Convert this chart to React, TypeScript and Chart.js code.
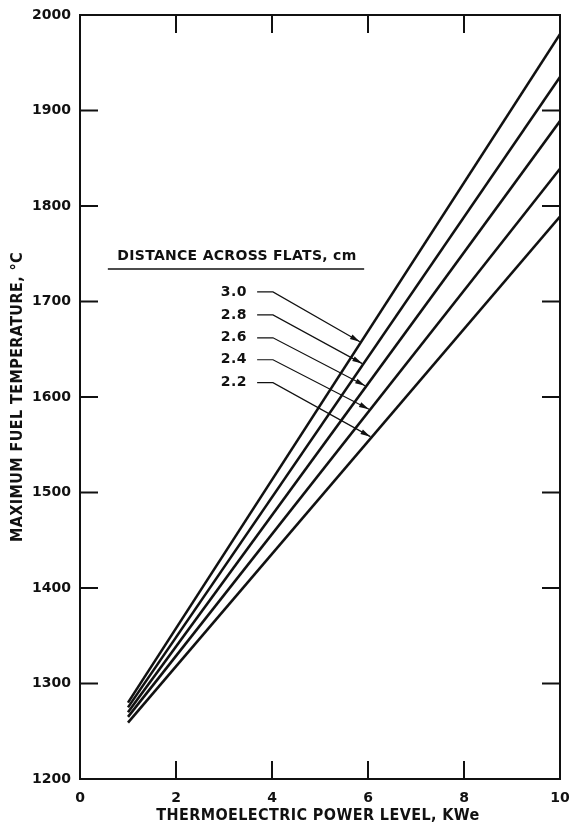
import React, { useEffect, useRef } from "react";
import { Chart, registerables } from "chart.js";

Chart.register(...registerables);

// ---- data ----
const powerLevelKWe = [1, 10];
const flatDistanceLabels = ["3.0", "2.8", "2.6", "2.4", "2.2"];
const temp30 = [1280, 1980];
const temp28 = [1275, 1935];
const temp26 = [1270, 1889];
const temp24 = [1265, 1839];
const temp22 = [1259, 1789];
const seriesTemps = [temp30, temp28, temp26, temp24, temp22];

const xTickValues = [0, 2, 4, 6, 8, 10];
const yTickValues = [1200, 1300, 1400, 1500, 1600, 1700, 1800, 1900, 2000];

const xTitle = "THERMOELECTRIC POWER LEVEL, KWe";
const yTitle = "MAXIMUM FUEL TEMPERATURE, \u00B0C";
const legendTitle = "DISTANCE ACROSS FLATS, cm";

// annotation anchors (data coordinates)
const legendTitleAt = { x: 3.27, y: 1747 };
const legendUnderline = { x0: 0.58, x1: 5.92, y: 1734 };
const labelRightX = 3.48;
const labelYs = [1710, 1686, 1662, 1639, 1615];
const leaderStartX = 3.69;
const leaderBendX = 4.02;
const arrowTipXs = [5.83, 5.88, 5.94, 6.02, 6.05];

const INK = "#111";
const FONT = "'DejaVu Sans', sans-serif";
const TITLE_FONT = "'DejaVu Sans Condensed', 'DejaVu Sans', sans-serif";

function valueOnLine(vals: number[], xv: number) {
  const [x0, x1] = powerLevelKWe;
  return vals[0] + ((vals[1] - vals[0]) * (xv - x0)) / (x1 - x0);
}

const decorPlugin = {
  id: "decor",
  afterDatasetsDraw(chart: any) {
    const { ctx, chartArea, scales } = chart;
    const { left, right, top, bottom } = chartArea;
    const xs = scales.x;
    const ys = scales.y;
    ctx.save();
    ctx.strokeStyle = INK;
    ctx.fillStyle = INK;
    ctx.lineCap = "butt";

    // frame
    ctx.lineWidth = 2;
    ctx.strokeRect(left, top, right - left, bottom - top);

    // inward ticks
    const tl = 18;
    ctx.beginPath();
    xTickValues.slice(1, -1).forEach((v) => {
      const px = xs.getPixelForValue(v);
      ctx.moveTo(px, bottom);
      ctx.lineTo(px, bottom - tl);
      ctx.moveTo(px, top);
      ctx.lineTo(px, top + tl);
    });
    yTickValues.slice(1, -1).forEach((v) => {
      const py = ys.getPixelForValue(v);
      ctx.moveTo(left, py);
      ctx.lineTo(left + tl, py);
      ctx.moveTo(right, py);
      ctx.lineTo(right - tl, py);
    });
    ctx.stroke();

    // axis titles
    (ctx as any).letterSpacing = "0.4px";
    ctx.font = `bold 16px ${TITLE_FONT}`;
    ctx.textAlign = "center";
    ctx.textBaseline = "middle";
    ctx.fillText(xTitle, (left + right) / 2 - 2, 816);
    ctx.save();
    ctx.translate(18, (top + bottom) / 2);
    ctx.rotate(-Math.PI / 2);
    ctx.fillText(yTitle, 0, 0);
    ctx.restore();

    // legend title + underline
    (ctx as any).letterSpacing = "0.3px";
    ctx.font = `bold 14px ${FONT}`;
    ctx.fillText(legendTitle, xs.getPixelForValue(legendTitleAt.x), ys.getPixelForValue(legendTitleAt.y));
    ctx.lineWidth = 1.5;
    ctx.beginPath();
    const uy = ys.getPixelForValue(legendUnderline.y);
    ctx.moveTo(xs.getPixelForValue(legendUnderline.x0), uy);
    ctx.lineTo(xs.getPixelForValue(legendUnderline.x1), uy);
    ctx.stroke();

    // labels with leaders and arrows
    (ctx as any).letterSpacing = "0.5px";
    ctx.font = `bold 14px ${FONT}`;
    ctx.textAlign = "right";
    flatDistanceLabels.forEach((lab, i) => {
      const ly = ys.getPixelForValue(labelYs[i]);
      ctx.fillText(lab, xs.getPixelForValue(labelRightX), ly);
      const sx = xs.getPixelForValue(leaderStartX);
      const bx = xs.getPixelForValue(leaderBendX);
      const tx = xs.getPixelForValue(arrowTipXs[i]);
      const ty = ys.getPixelForValue(valueOnLine(seriesTemps[i], arrowTipXs[i])) - 2;
      ctx.lineWidth = 1.2;
      ctx.beginPath();
      ctx.moveTo(sx, ly);
      ctx.lineTo(bx, ly);
      ctx.lineTo(tx, ty);
      ctx.stroke();
      const ang = Math.atan2(ty - ly, tx - bx);
      const L = 10, W = 2.6;
      ctx.beginPath();
      ctx.moveTo(tx, ty);
      ctx.lineTo(tx - L * Math.cos(ang) + W * Math.sin(ang), ty - L * Math.sin(ang) - W * Math.cos(ang));
      ctx.lineTo(tx - L * Math.cos(ang) - W * Math.sin(ang), ty - L * Math.sin(ang) + W * Math.cos(ang));
      ctx.closePath();
      ctx.fill();
    });
    ctx.restore();
  },
};

export default function App() {
  const ref = useRef<HTMLCanvasElement | null>(null);
  useEffect(() => {
    if (!ref.current) return;
    const chart = new Chart(ref.current, {
      type: "line",
      data: {
        datasets: seriesTemps.map((vals, i) => ({
          label: flatDistanceLabels[i],
          data: powerLevelKWe.map((x, j) => ({ x, y: vals[j] })),
          borderColor: INK,
          borderWidth: 2.6,
          pointRadius: 0,
          tension: 0,
          fill: false,
        })),
      },
      options: {
        animation: false,
        responsive: false,
        events: [],
        layout: { padding: { left: 0, right: 10, top: 15, bottom: 0 } },
        plugins: { legend: { display: false }, tooltip: { enabled: false } },
        scales: {
          x: {
            type: "linear",
            min: 0,
            max: 10,
            grid: { display: false, drawTicks: false },
            border: { display: false },
            afterBuildTicks: (s: any) => {
              s.ticks = xTickValues.map((v) => ({ value: v }));
            },
            afterFit: (s: any) => {
              s.height = 46;
              s.paddingLeft = 0;
              s.paddingRight = 0;
            },
            ticks: {
              padding: 11,
              color: INK,
              maxRotation: 0,
              font: { family: FONT, size: 14, weight: "bold" },
              callback: (v: any) => String(v),
            },
          },
          y: {
            type: "linear",
            min: 1200,
            max: 2000,
            grid: { display: false, drawTicks: false },
            border: { display: false },
            afterBuildTicks: (s: any) => {
              s.ticks = yTickValues.map((v) => ({ value: v }));
            },
            afterFit: (s: any) => {
              s.width = 80;
              s.paddingTop = 0;
              s.paddingBottom = 0;
            },
            ticks: {
              padding: 9,
              color: INK,
              font: { family: FONT, size: 14, weight: "bold" },
              callback: (v: any) => String(v),
            },
          },
        },
      },
      plugins: [decorPlugin],
    } as any);
    return () => chart.destroy();
  }, []);
  return (
    <div style={{ position: "fixed", left: 0, top: 0, width: 570, height: 825, background: "#fff" }}>
      <canvas ref={ref} width={570} height={825} style={{ width: 570, height: 825, display: "block" }} />
    </div>
  );
}
